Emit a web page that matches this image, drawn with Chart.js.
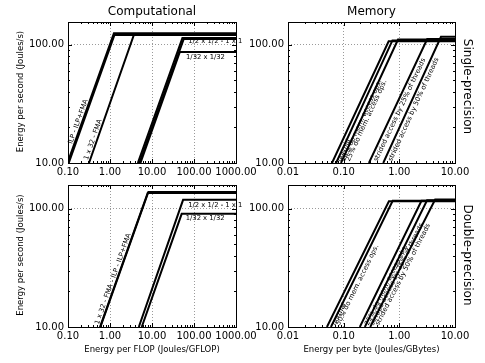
<!DOCTYPE html>
<html>
<head>
<meta charset="utf-8">
<script src="https://cdn.jsdelivr.net/npm/chart.js@4.4.0/dist/chart.umd.min.js"></script>
<style>
html, body { margin: 0; padding: 0; background: #fff; }
#wrap { position: relative; width: 485px; height: 363px; }
#wrap canvas { position: absolute; left: 0; top: 0; }
</style>
</head>
<body>
<div id="wrap">
  <canvas id="compSp" width="485" height="363"></canvas>
  <canvas id="memSp" width="485" height="363"></canvas>
  <canvas id="compDp" width="485" height="363"></canvas>
  <canvas id="memDp" width="485" height="363"></canvas>
</div>
<script>
// axes
const yMin = 10
const yTicks = [10, 100]
const spYMax = 156
const dpYMax = 159
const compXTicks = [0.1, 1, 10, 100, 1000]
const memXTicks = [0.01, 0.1, 1, 10]

// each line: x where it leaves y=10, x of the knee, flat peak value
const compSpNames = ['ILP', 'ILP+FMA', '1 x 32 - FMA', '1/2 x 1/2', '1 x 1', '1/32 x 1/32']
const compSpStartX = [0.104, 0.097, 0.316, 4.6, 5.0, 5.3]
const compSpKneeX = [1.27, 1.24, 3.75, 53, 57, 46]
const compSpPeak = [121, 125, 123, 114, 112, 87]

const memNames = ['normal', '50% do mem. access ops.', '25% do mem. access ops.',
    'strided access by 25% of threads', 'strided access by 50% of threads']
const memSpStartX = [0.0617, 0.0731, 0.0894, 0.284, 0.514]
const memSpKneeX = [0.643, 0.752, 0.946, 3.17, 5.6]
const memSpPeak = [107, 109, 111, 112, 117]

const compDpNames = ['1 x 32 - FMA', 'ILP - ILP+FMA', '1/2 x 1/2 - 1 x 1', '1/32 x 1/32']
const compDpStartX = [0.578, 0.59, 4.85, 5.69]
const compDpKneeX = [7.9, 8.2, 55, 50.9]
const compDpPeak = [136, 139, 119, 90.7]

const memDpStartX = [0.050, 0.059, 0.195, 0.240, 0.300]
const memDpKneeX = [0.65, 0.76, 2.5, 3.15, 4.4]
const memDpPeak = [116, 117, 117, 118, 120]

const FONT = 'DejaVu Sans'
const W = 485, H = 363
const Y_W = 40, X_H = 20

// frame + inward ticks like matplotlib
const framePlugin = {
    id: 'frame',
    afterDraw(chart) {
        const { ctx, chartArea: a } = chart
        const xs = chart.scales.x, ys = chart.scales.y
        ctx.save()
        ctx.strokeStyle = '#000'
        ctx.lineWidth = 1
        ctx.beginPath()
        const decades = (min, max) => {
            const out = []
            for (let e = Math.floor(Math.log10(min)); e <= Math.ceil(Math.log10(max)); e++) {
                for (let k = 1; k <= 9; k++) {
                    const v = k * Math.pow(10, e)
                    if (v >= min * 0.999 && v <= max * 1.001) out.push({ v, major: k === 1 })
                }
            }
            return out
        }
        decades(xs.min, xs.max).forEach(t => {
            const x = Math.round(xs.getPixelForValue(t.v)) + 0.5
            const len = t.major ? 4 : 2
            ctx.moveTo(x, a.bottom); ctx.lineTo(x, a.bottom - len)
            ctx.moveTo(x, a.top); ctx.lineTo(x, a.top + len)
        })
        decades(ys.min, ys.max).forEach(t => {
            const y = Math.round(ys.getPixelForValue(t.v)) + 0.5
            const len = t.major ? 4 : 2
            ctx.moveTo(a.left, y); ctx.lineTo(a.left + len, y)
            ctx.moveTo(a.right, y); ctx.lineTo(a.right - len, y)
        })
        ctx.stroke()
        ctx.strokeRect(Math.round(a.left) + 0.5, Math.round(a.top) + 0.5,
            Math.round(a.right - a.left), Math.round(a.bottom - a.top))
        ctx.restore()
    }
}

// point on a line's rising part at value yVal, plus its on-screen angle
function lineAnchor(chart, i, yVal) {
    const pts = chart.data.datasets[i].data
    const a = pts[0], b = pts[1]
    const t = Math.log(yVal / a.y) / Math.log(b.y / a.y)
    const xVal = Math.exp(Math.log(a.x) + t * (Math.log(b.x) - Math.log(a.x)))
    const xs = chart.scales.x, ys = chart.scales.y
    const ang = Math.atan2(ys.getPixelForValue(a.y) - ys.getPixelForValue(b.y),
        xs.getPixelForValue(b.x) - xs.getPixelForValue(a.x))
    return { px: xs.getPixelForValue(xVal), py: ys.getPixelForValue(yVal), ang }
}

function makeTextPlugin(cfg) {
    return {
        id: 'panelText',
        afterDraw(chart) {
            const { ctx, chartArea: a } = chart
            const cx = (a.left + a.right) / 2, cy = (a.top + a.bottom) / 2
            ctx.save()
            ctx.fillStyle = '#000'
            if (cfg.title) {
                ctx.font = '12px "' + FONT + '"'
                ctx.textAlign = 'center'
                ctx.textBaseline = 'alphabetic'
                ctx.fillText(cfg.title, cx, a.top - 7)
            }
            if (cfg.yLabel) {
                ctx.save()
                ctx.font = '8.5px "' + FONT + '"'
                ctx.textAlign = 'center'
                ctx.textBaseline = 'middle'
                ctx.translate(a.left - 47, cy - 1)
                ctx.rotate(-Math.PI / 2)
                ctx.fillText(cfg.yLabel, 0, 0)
                ctx.restore()
            }
            if (cfg.xLabel) {
                ctx.font = '8.5px "' + FONT + '"'
                ctx.textAlign = 'center'
                ctx.textBaseline = 'middle'
                ctx.fillText(cfg.xLabel, cx, a.bottom + 23)
            }
            if (cfg.rowLabel) {
                ctx.save()
                ctx.font = '12px "' + FONT + '"'
                ctx.textAlign = 'center'
                ctx.textBaseline = 'middle'
                ctx.translate(a.right + 12.5, cy + cfg.rowDy)
                ctx.rotate(Math.PI / 2)
                ctx.fillText(cfg.rowLabel, 0, 0)
                ctx.restore()
            }
            cfg.labels.forEach(l => {
                ctx.save()
                ctx.font = '6.8px "' + FONT + '"'
                ctx.textAlign = 'left'
                if (l.series === undefined) {
                    ctx.textBaseline = 'middle'
                    ctx.fillText(l.text, chart.scales.x.getPixelForValue(l.x), chart.scales.y.getPixelForValue(l.y))
                } else {
                    const p = lineAnchor(chart, l.series, l.y)
                    ctx.translate(p.px, p.py)
                    ctx.rotate(-p.ang)
                    if (l.side === 'left') {
                        ctx.textBaseline = 'alphabetic'
                        ctx.fillText(l.text, 0, -2)
                    } else {
                        ctx.textBaseline = 'top'
                        ctx.fillText(l.text, 0, 2)
                    }
                }
                ctx.restore()
            })
            ctx.restore()
        }
    }
}

function makeChart(id, cfg) {
    const area = cfg.area
    const tickFont = { family: FONT, size: 10 }
    const datasets = cfg.names.map((n, i) => ({
        label: n,
        data: [
            { x: cfg.startX[i], y: yMin },
            { x: cfg.kneeX[i], y: cfg.peak[i] },
            { x: cfg.xTicks[cfg.xTicks.length - 1], y: cfg.peak[i] }
        ],
        borderColor: '#000',
        borderWidth: 2,
        pointRadius: 0,
        fill: false,
        tension: 0
    }))
    return new Chart(document.getElementById(id), {
        type: 'line',
        data: { datasets },
        options: {
            responsive: false,
            animation: false,
            devicePixelRatio: 1,
            layout: {
                padding: { left: area.left - Y_W, top: area.top, right: W - area.right, bottom: H - area.bottom - X_H }
            },
            plugins: { legend: { display: false }, tooltip: { enabled: false } },
            scales: {
                x: {
                    type: 'logarithmic',
                    min: cfg.xTicks[0],
                    max: cfg.xTicks[cfg.xTicks.length - 1],
                    afterBuildTicks: s => { s.ticks = cfg.xTicks.map(v => ({ value: v })) },
                    afterFit: s => { s.height = X_H },
                    ticks: { autoSkip: false, maxRotation: 0, padding: 3, color: '#000', font: tickFont,
                        callback: v => Number(v).toFixed(2) },
                    grid: { color: '#808080', lineWidth: 0.8, drawTicks: false },
                    border: { display: false, dash: [1, 2] }
                },
                y: {
                    type: 'logarithmic',
                    min: yMin,
                    max: cfg.yMax,
                    afterBuildTicks: s => { s.ticks = yTicks.map(v => ({ value: v })) },
                    afterFit: s => { s.width = Y_W },
                    ticks: { autoSkip: false, padding: 4, color: '#000', font: tickFont,
                        callback: v => Number(v).toFixed(2) },
                    grid: { color: '#808080', lineWidth: 0.8, drawTicks: false },
                    border: { display: false, dash: [1, 2] }
                }
            }
        },
        plugins: [framePlugin, makeTextPlugin(cfg)]
    })
}

makeChart('compSp', {
    area: { left: 68, top: 22, right: 236, bottom: 163 },
    names: compSpNames, startX: compSpStartX, kneeX: compSpKneeX, peak: compSpPeak,
    xTicks: compXTicks, yMax: spYMax,
    title: 'Computational', yLabel: 'Energy per second (Joules/s)',
    labels: [
        { text: 'ILP - ILP+FMA', series: 1, y: 14.2, side: 'left' },
        { text: '1 x 32 - FMA', series: 2, y: 10.4, side: 'left' },
        { text: '1/2 x 1/2 - 1 x 1', x: 73, y: 107 },
        { text: '1/32 x 1/32', x: 64.6, y: 79 }
    ]
})

makeChart('memSp', {
    area: { left: 288, top: 22, right: 455, bottom: 163 },
    names: memNames, startX: memSpStartX, kneeX: memSpKneeX, peak: memSpPeak,
    xTicks: memXTicks, yMax: spYMax,
    title: 'Memory', rowLabel: 'Single-precision', rowDy: -6,
    labels: memNames.map((n, i) => ({ text: n, series: i, y: 10.85, side: 'right' }))
})

makeChart('compDp', {
    area: { left: 68, top: 185, right: 236, bottom: 327 },
    names: compDpNames, startX: compDpStartX, kneeX: compDpKneeX, peak: compDpPeak,
    xTicks: compXTicks, yMax: dpYMax,
    yLabel: 'Energy per second (Joules/s)', xLabel: 'Energy per FLOP (Joules/GFLOP)',
    labels: [
        { text: '1 x 32 - FMA - ILP - ILP+FMA', series: 0, y: 10.3, side: 'left' },
        { text: '1/2 x 1/2 - 1 x 1', x: 73, y: 107 },
        { text: '1/32 x 1/32', x: 63.4, y: 83 }
    ]
})

makeChart('memDp', {
    area: { left: 288, top: 185, right: 455, bottom: 327 },
    names: memNames, startX: memDpStartX, kneeX: memDpKneeX, peak: memDpPeak,
    xTicks: memXTicks, yMax: dpYMax,
    xLabel: 'Energy per byte (Joules/GBytes)', rowLabel: 'Double-precision', rowDy: -1,
    labels: memNames.map((n, i) => ({ text: n, series: i, y: 10.9, side: 'right' }))
})
</script>
</body>
</html>
